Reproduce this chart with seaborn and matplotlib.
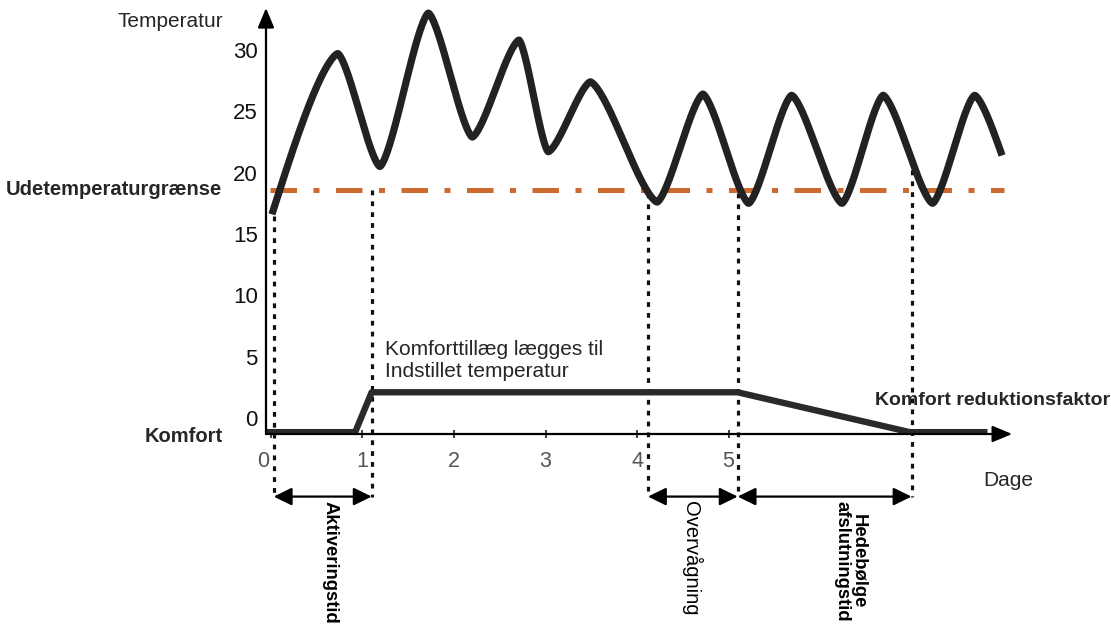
import numpy as np
import pandas as pd
import matplotlib
matplotlib.use("Agg")
import matplotlib.pyplot as plt
import matplotlib.transforms as mtransforms
import seaborn as sns

# ---------------- data ----------------
# outdoor temperature curve: start, successive peaks/troughs, end  (day, °C)
temp_days = [0.01, 0.73, 1.19, 1.72, 2.20, 2.71, 3.03, 3.49, 4.22, 4.72, 5.22, 5.69, 6.24, 6.69, 7.23, 7.69, 7.99]
temp_vals = [16.6, 29.7, 20.5, 33.0, 22.9, 30.8, 21.7, 27.4, 17.6, 26.4, 17.5, 26.3, 17.5, 26.3, 17.5, 26.3, 21.4]

# outdoor temperature limit (dash-dot line)
limit_value = 18.6
limit_days = [-0.01, 8.01]

# comfort offset curve (day, value)
comfort_days = [-0.055, 0.92, 1.10, 5.10, 6.98, 7.83]
comfort_vals = [-1.15, -1.15, 2.1, 2.1, -1.15, -1.15]

# dotted guide lines: day and top value
guide_days = [0.03, 1.10, 4.12, 5.10, 7.00]
guide_tops = [16.5, 18.6, 18.3, 18.3, 20.2]
guide_bottom = -6.4

# interval arrows (start day, end day, label, bold)
interval_starts = [0.03, 4.12, 5.10]
interval_ends = [1.10, 5.10, 7.00]
interval_labels = ["Aktiveringstid", "Overvågning", "Hedebølge\nafslutningstid"]
interval_bold = [True, False, True]
interval_label_x = [0.645, 4.60, 6.33]

x_ticks = [0, 1, 2, 3, 4, 5]
y_ticks = [0, 5, 10, 15, 20, 25, 30]

# ---------------- style ----------------
sns.set_theme(style="white")
plt.rcParams["font.family"] = ["Liberation Sans", "DejaVu Sans"]

fig = plt.figure(figsize=(11.11, 6.27), dpi=100)
W, H = 1111, 627
ax = fig.add_axes([266 / W, 1 - 434 / H, (1100 - 266) / W, (434 - 5) / H])
x0, y0 = -0.0546, -1.30
ax.set_xlim(x0, 9.06)
ax.set_ylim(y0, 33.66)
for s in ax.spines.values():
    s.set_visible(False)
ax.patch.set_alpha(0)


def ease(kind, k=0.5, m=300):
    """Shape of a stroke between two read points (rendering only)."""
    t = np.linspace(0, 1, m)
    if kind == "start":
        g = np.cos(np.pi * t / 2) ** k
    elif kind == "end":
        g = np.sin(np.pi * t / 2) ** k
    else:
        g = np.sin(np.pi * t) ** k
    c = np.concatenate([[0], np.cumsum((g[1:] + g[:-1]) / 2)])
    return t, c / c[-1]


xs, ys = [], []
n = len(temp_days)
for i in range(n - 1):
    kind = "start" if i == 0 else ("end" if i == n - 2 else "mid")
    t, f = ease(kind, k=0.45)
    xa, xb = temp_days[i], temp_days[i + 1]
    ya, yb = temp_vals[i], temp_vals[i + 1]
    xs.append(xa + (xb - xa) * t)
    ys.append(ya + (yb - ya) * f)
curve = pd.DataFrame({"day": np.concatenate(xs), "temp": np.concatenate(ys)})

# limit line
ax.plot(limit_days, [limit_value, limit_value], color="#CD6A2E", lw=3.6,
        dashes=(5.3, 3.3, 1.2, 3.3), solid_capstyle="butt", dash_capstyle="butt", zorder=2)

# dotted guides
for d, top in zip(guide_days, guide_tops):
    ax.plot([d, d], [top, guide_bottom], color="#111111", lw=2.3,
            linestyle=(0, (1.5, 1.9)), clip_on=False, zorder=1)

sns.lineplot(data=curve, x="day", y="temp", ax=ax, color="#222222", lw=5.2,
             sort=False, estimator=None, zorder=3)
ax.lines[-1].set_solid_capstyle("butt")
ax.lines[-1].set_solid_joinstyle("round")

comfort = pd.DataFrame({"day": comfort_days, "val": comfort_vals})
sns.lineplot(data=comfort, x="day", y="val", ax=ax, color="#2a2a2a", lw=4.6,
             sort=False, estimator=None, zorder=3)
ax.lines[-1].set_solid_capstyle("butt")
ax.set_xlabel("")
ax.set_ylabel("")

# axes arrows
axis_arrow = dict(arrowstyle="-|>,head_length=0.6,head_width=0.25", lw=1.6,
                  color="black", mutation_scale=20, shrinkA=0, shrinkB=0)
ax.annotate("", xy=(x0, 33.42), xytext=(x0, y0), arrowprops=axis_arrow,
            annotation_clip=False, zorder=4)
ax.annotate("", xy=(8.10, y0), xytext=(x0, y0), arrowprops=axis_arrow,
            annotation_clip=False, zorder=4)

# ticks
ax.set_xticks(x_ticks)
ax.set_xticklabels([str(v) for v in x_ticks])
ax.tick_params(axis="x", direction="inout", length=6, width=1.2, color="#222222",
               labelsize=15.5, labelcolor="#555555", pad=9, bottom=True)
first = ax.xaxis.get_major_ticks()[0].label1
first.set_transform(first.get_transform() +
                    mtransforms.ScaledTranslation(-8 / 100, 0, fig.dpi_scale_trans))
ax.set_yticks(y_ticks)
ax.set_yticklabels([str(v) for v in y_ticks])
ax.tick_params(axis="y", length=0, labelsize=16, labelcolor="#111111", pad=6, left=True)
ax.grid(False)

# interval double arrows
dbl = dict(arrowstyle="<|-|>,head_length=0.55,head_width=0.27", lw=1.6,
           color="black", mutation_scale=20, shrinkA=0, shrinkB=0)
for a, b, lab, bold, lx in zip(interval_starts, interval_ends, interval_labels,
                               interval_bold, interval_label_x):
    ax.annotate("", xy=(b, guide_bottom), xytext=(a, guide_bottom), arrowprops=dbl,
                annotation_clip=False)
    ax.text(lx, -6.75, lab, rotation=270, ha="center", va="top",
            fontsize=13.3 if bold else 14.5,
            fontweight="bold" if bold else "normal", color="black",
            linespacing=1.0, clip_on=False)

# labels
ax.text(-0.525, 32.3, "Temperatur", ha="right", va="center", fontsize=15, clip_on=False)
ax.text(-0.535, limit_value, "Udetemperaturgrænse", ha="right", va="center",
        fontsize=14.5, fontweight="bold", clip_on=False)
ax.text(-0.525, -1.47, "Komfort", ha="right", va="center", fontsize=14.5,
        fontweight="bold", clip_on=False)
ax.text(6.60, 1.47, "Komfort reduktionsfaktor", ha="left", va="center", fontsize=14,
        fontweight="bold", clip_on=False)
ax.text(1.25, 4.7, "Komforttillæg lægges til\nIndstillet temperatur", ha="left",
        va="center", fontsize=15, linespacing=1.2, clip_on=False)
ax.text(7.78, -5.05, "Dage", ha="left", va="center", fontsize=15, clip_on=False)

fig.savefig("out.png", dpi=100)
